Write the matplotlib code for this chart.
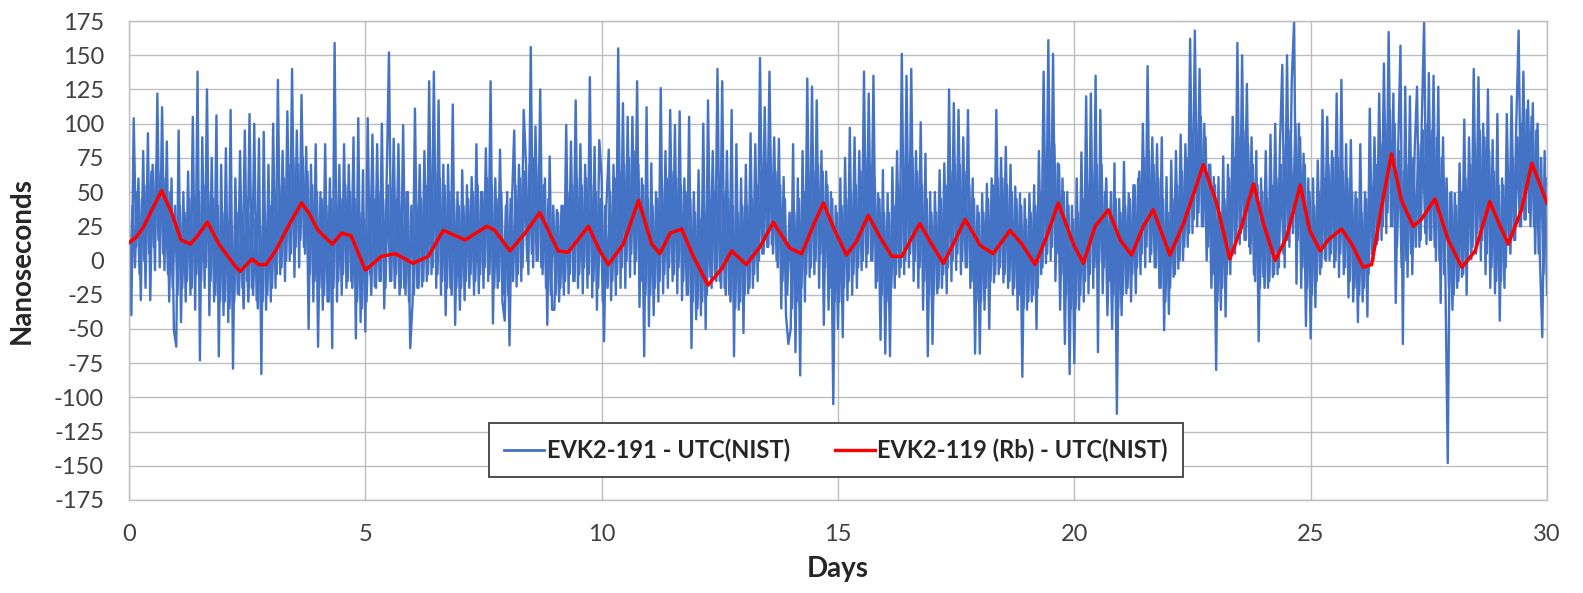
import numpy as np
import matplotlib
matplotlib.use("Agg")
import matplotlib.pyplot as plt

plt.rcParams['font.family'] = ['Lato', 'DejaVu Sans']

# ---------------- data ----------------
blue_label = "EVK2-191 - UTC(NIST)"
red_label = "EVK2-119 (Rb) - UTC(NIST)"

blue_step_days = 0.05
# EVK2-191 - UTC(NIST), ns: excursions (spikes), one row per day (20 samples/day)
blue_by_day = [
    [15, -40, 104, 10, 60, -29, 80, -20, 93, -29, 70, -7, 122, -5, 112, -7, 87, -30, 60, -51],
    [-63, 95, -45, 50, -30, 65, -25, 105, -36, 138, -73, 90, -20, 125, -40, 75, -30, 106, -70, 70],
    [-40, 82, -45, 110, -79, 60, -24, 80, -20, 95, -15, 107, -20, 100, -29, 89, -83, 94, -36, 70],
    [-30, 100, -20, 132, -10, 80, -15, 109, 0, 140, -12, 95, -5, 121, 10, 83, -50, 70, -30, 85],
    [-63, 50, -36, 85, -30, 60, -64, 159, -30, 70, -25, 85, -20, 70, -15, 90, -57, 104, -45, 66],
    [-52, 104, -10, 92, -19, 85, -15, 100, -35, 55, 152, -15, 89, -10, 85, -20, 99, -25, 50, -64],
    [-30, 111, -20, 70, -19, 80, -15, 131, -10, 138, -20, 117, -25, 70, -40, 70, -20, 114, -47, 50],
    [-36, 66, -29, 55, -20, 61, -25, 85, -24, 50, -20, 82, -15, 131, -46, 60, -20, 81, -30, -44],
    [50, -62, 40, 95, -19, 70, -15, 110, 70, -10, 156, -5, 98, 0, 125, -10, 60, -47, 76, -36],
    [-36, 37, -30, 40, -25, 99, -24, 87, -15, 117, -20, 85, -24, 70, -20, 134, -27, 83, -36, 88],
    [60, -59, 40, 81, -29, 70, -25, 155, -20, 115, -20, 105, -12, 105, -10, 131, -34, 60, -70, 112],
    [-48, 71, -40, 50, -30, 126, -24, 80, -20, 110, -15, 99, -24, 109, -29, 60, -25, 105, -64, 50],
    [-43, 66, -40, 100, -50, 117, -12, 80, -10, 140, -15, 131, -20, 80, -25, 110, -70, 85, -36, 60],
    [-53, 70, -24, 93, -20, 85, -15, 148, 5, 112, 10, 138, 12, 90, 0, 89, -35, 61, -40, -61],
    [-50, 85, -67, 60, -84, 80, -30, 133, -12, 127, -10, 117, -20, 80, -47, 65, -36, 50, -105, 40],
    [-50, 60, -56, 75, -29, 97, -25, 90, -20, 80, -7, 138, -5, 122, 0, 135, -20, 49, -58, 66],
    [-68, 49, -70, 68, -20, 80, -12, 151, -10, 135, -5, 140, -15, 80, -20, 101, -36, 78, -70, 50],
    [-61, 50, -24, 66, -20, 71, -24, 125, -15, 115, -7, 110, -10, 90, -5, 110, -20, 60, -68, 40],
    [-68, 49, -36, 56, -50, 60, -16, 110, -10, 75, -16, 83, -20, 70, -25, 54, -36, 49, -85, 45],
    [-36, 49, -30, 55, -50, 80, -10, 138, -2, 161, 0, 151, -15, 71, -36, 60, -61, 50, -83, 40],
    [-75, 60, -36, 79, -30, 120, -24, 122, -20, 135, -67, 110, -24, 50, -40, 37, -50, 71, -112, 45],
    [-40, 72, -24, 49, -30, 55, -24, 60, -10, 100, -5, 142, -1, 90, -5, 85, -20, 90, -51, 61],
    [-39, 73, -12, 80, -6, 92, 0, 85, 10, 162, 20, 168, 25, 140, 25, 100, 0, 70, -20, 61],
    [-80, 61, -36, 76, -41, 70, -10, 105, 5, 159, 12, 150, 15, 129, 10, 90, -10, 80, -59, 60],
    [-12, 80, -20, 92, -12, 100, -10, 85, 143, -5, 150, 10, 132, 175, -17, 100, -20, 78, -48, 60],
    [-57, 60, -34, 73, -10, 110, 1, 105, 0, 80, -5, 122, -12, 132, -10, 85, -27, 88, -30, 50],
    [-45, 85, -30, 50, -41, 111, 5, 90, 12, 122, 15, 144, 20, 167, 25, 122, -31, 80, 157, -61],
    [127, -12, 120, -10, 80, 127, 10, 100, 175, 12, 137, 15, 135, 0, 127, -31, 90, -12, -148, 49],
    [-36, 49, -20, 71, -12, 103, -25, 90, 1, 140, 5, 134, 0, 100, -10, 125, -20, 88, -24, 107],
    [-44, 60, -20, 107, 12, 120, 15, 100, 168, 25, 138, 30, 117, 25, 115, 5, 100, 1, -56, 80],
]
blue_last = [-25]

# EVK2-191 - UTC(NIST), ns: dense core samples, offset half a step (20 samples/day)
blue_core_by_day = [
    [-15, 40, -5, 50, -10, 45, 0, 55, 5, 65, 10, 70, 15, 65, 5, 60, -10, 50, -20, 40],
    [-25, 40, -20, 35, -15, 45, -20, 40, -10, 50, -15, 55, -5, 50, -15, 45, -25, 40, -30, 35],
    [-30, 30, -35, 25, -30, 35, -25, 30, -35, 40, -30, 35, -25, 30, -35, 25, -30, 35, -25, 40],
    [-20, 45, -10, 55, -5, 60, 0, 70, 5, 75, 10, 70, 15, 75, 5, 65, -10, 55, -15, 50],
    [-20, 45, -25, 40, -30, 45, -20, 50, -15, 45, -10, 55, -15, 50, -20, 45, -30, 35, -35, 30],
    [-30, 35, -25, 45, -20, 50, -15, 45, -20, 55, -15, 50, -20, 45, -25, 40, -20, 50, -30, 40],
    [-25, 40, -20, 45, -15, 55, -10, 60, -5, 65, -10, 60, -15, 55, -20, 50, -25, 45, -20, 40],
    [-20, 40, -15, 45, -10, 50, -15, 55, -10, 50, -5, 60, -10, 55, -20, 45, -15, 50, -25, 40],
    [-25, 45, -15, 55, -10, 60, -5, 65, 0, 70, 5, 75, 0, 70, -5, 55, -20, 45, -25, 40],
    [-25, 35, -20, 40, -15, 50, -10, 55, -15, 60, -10, 55, -5, 60, -10, 55, -15, 50, -20, 45],
    [-30, 40, -20, 50, -15, 60, -10, 65, -5, 70, 0, 75, 5, 80, 0, 70, -15, 55, -25, 45],
    [-25, 40, -20, 45, -15, 55, -10, 60, -5, 65, -10, 60, -5, 55, -15, 50, -25, 45, -30, 35],
    [-35, 30, -30, 35, -25, 45, -20, 50, -15, 55, -20, 50, -25, 45, -30, 40, -35, 35, -30, 40],
    [-25, 40, -20, 45, -10, 55, 0, 65, 5, 70, 10, 75, 5, 65, -5, 55, -15, 45, -25, 35],
    [-35, 35, -30, 45, -20, 50, -10, 60, -5, 65, 0, 70, 5, 65, -5, 55, -20, 45, -30, 35],
    [-30, 40, -20, 45, -15, 50, -10, 55, -5, 65, 0, 75, 5, 70, 0, 60, -15, 45, -25, 35],
    [-30, 35, -20, 40, -10, 55, -5, 65, 0, 70, 5, 75, 0, 65, -5, 55, -15, 45, -25, 35],
    [-25, 35, -20, 45, -10, 55, -5, 65, 0, 70, 5, 70, 0, 65, -5, 55, -15, 45, -30, 35],
    [-30, 35, -20, 45, -15, 55, -10, 60, -5, 60, -10, 55, -15, 50, -20, 45, -25, 40, -35, 30],
    [-30, 35, -25, 40, -20, 50, -5, 65, 5, 80, 10, 85, 5, 70, -10, 50, -25, 40, -35, 30],
    [-35, 35, -25, 45, -15, 55, -10, 65, -5, 70, 0, 70, -5, 60, -15, 50, -25, 45, -35, 35],
    [-25, 40, -20, 45, -10, 55, -5, 65, 5, 75, 10, 80, 5, 70, -5, 60, -20, 45, -30, 35],
    [-20, 45, -10, 55, 0, 65, 10, 75, 20, 90, 30, 100, 35, 105, 25, 90, 10, 70, -10, 55],
    [-30, 35, -20, 45, -10, 60, 5, 75, 15, 90, 20, 95, 15, 85, 5, 70, -15, 55, -20, 50],
    [-20, 45, -15, 55, -10, 60, -5, 70, 5, 85, 15, 95, 20, 100, 15, 90, -5, 70, -20, 50],
    [-25, 40, -15, 50, -5, 60, 0, 70, 5, 75, 0, 75, 5, 65, -5, 60, -15, 50, -20, 45],
    [-25, 35, -20, 45, -10, 55, 0, 70, 15, 85, 25, 100, 35, 110, 25, 100, 10, 80, -5, 65],
    [0, 70, 5, 75, 10, 85, 15, 95, 20, 100, 15, 95, 10, 90, 0, 75, -10, 60, -20, 50],
    [-25, 40, -15, 50, -10, 60, 0, 70, 10, 85, 20, 95, 15, 90, 5, 80, -5, 65, -15, 55],
    [-15, 55, -5, 65, 5, 75, 15, 90, 25, 100, 30, 110, 35, 105, 25, 95, 5, 75, -10, 60],
]

# EVK2-119 (Rb) - UTC(NIST)
red_days = [0, 0.15, 0.3, 0.5, 0.69, 0.9, 1.1, 1.3, 1.45, 1.66, 1.9, 2.2, 2.35, 2.6, 2.75, 2.9,
            3.1, 3.4, 3.65, 3.8, 4.0, 4.3, 4.5, 4.7, 5.0, 5.34, 5.63, 6.01, 6.33, 6.65, 7.11,
            7.57, 7.74, 8.06, 8.38, 8.69, 9.08, 9.29, 9.72, 9.96, 10.14, 10.46, 10.78, 11.06,
            11.23, 11.45, 11.69, 11.94, 12.25, 12.54, 12.75, 13.06, 13.35, 13.63, 13.98, 14.23,
            14.47, 14.69, 14.93, 15.18, 15.39, 15.64, 15.89, 16.14, 16.35, 16.73, 16.98, 17.23,
            17.41, 17.69, 18.01, 18.28, 18.64, 18.89, 19.17, 19.41, 19.66, 19.98, 20.19, 20.44,
            20.72, 20.97, 21.21, 21.46, 21.67, 22.02, 22.31, 22.73, 23.01, 23.29, 23.54, 23.79,
            24.0, 24.25, 24.49, 24.78, 24.98, 25.2, 25.37, 25.65, 25.87, 26.11, 26.29, 26.5,
            26.71, 26.92, 27.17, 27.34, 27.63, 27.91, 28.2, 28.48, 28.79, 29.01, 29.18, 29.46,
            29.68, 30]
red_vals = [13, 17, 24, 38, 51, 35, 15, 12, 18, 28, 12, -2, -8, 1, -3, -3,
            7, 27, 42, 35, 22, 12, 20, 18, -7, 3, 5, -2, 3, 22, 15,
            25, 22, 7, 20, 35, 7, 6, 25, 7, -3, 12, 44, 12,
            5, 20, 23, 3, -18, -6, 7, -3, 10, 28, 9, 5,
            25, 42, 22, 4, 14, 33, 17, 3, 3, 27, 12, -2,
            10, 30, 11, 5, 22, 12, -3, 17, 42, 12, -2, 25,
            37, 15, 4, 25, 37, 4, 27, 70, 42, 1, 25, 56,
            27, 0, 17, 55, 22, 7, 15, 23, 12, -5, -3, 39,
            78, 44, 25, 30, 45, 15, -5, 7, 43, 25, 12, 37,
            71, 42]

x_ticks = [0, 5, 10, 15, 20, 25, 30]
y_ticks = list(range(-175, 176, 25))
x_label = "Days"
y_label = "Nanoseconds"

# ---------------- plot ----------------
blue_vals = np.array([v for row in blue_by_day for v in row] + blue_last, dtype=float)
blue_days = np.arange(len(blue_vals)) * blue_step_days
core_vals = np.array([v for row in blue_core_by_day for v in row], dtype=float)
core_days = (np.arange(len(core_vals)) + 0.5) * blue_step_days

fig = plt.figure(figsize=(15.83, 5.93), dpi=100)
ax = fig.add_axes([129 / 1583, 93 / 593, 1418 / 1583, 479 / 593])

blue_color = '#4472C4'
ax.plot(core_days, core_vals, color=blue_color, lw=1.8, zorder=2)
ax.plot(blue_days, blue_vals, color=blue_color, lw=1.7, label=blue_label, zorder=2)
ax.plot(red_days, red_vals, color='#FF0000', lw=2.5, label=red_label, zorder=3,
        solid_joinstyle='round')

ax.set_xlim(0, 30)
ax.set_ylim(-175, 175)
ax.set_xticks(x_ticks)
ax.set_yticks(y_ticks)
ax.set_xticklabels([str(t) for t in x_ticks])
ax.set_yticklabels([str(t) for t in y_ticks])
ax.grid(True, color='#BDBDBD', lw=1.0, zorder=0)
ax.set_axisbelow(True)
for s in ax.spines.values():
    s.set_color('#BDBDBD')
    s.set_linewidth(1.0)
ax.tick_params(axis='both', length=0, labelsize=17, colors='#404040')
ax.tick_params(axis='x', pad=17)
ax.tick_params(axis='y', pad=18)

ax.set_xlabel(x_label, fontsize=20, fontweight='bold', color='#262626', labelpad=8)
ax.set_ylabel(y_label, fontsize=20, fontweight='bold', color='#262626', labelpad=14)

leg = ax.legend(loc='center', bbox_to_anchor=(0.4986, 0.104), ncol=2, frameon=True,
                fancybox=False, prop={'family': 'Lato', 'weight': 'bold', 'size': 17},
                handlelength=1.7, handletextpad=0.1, columnspacing=1.9, borderpad=0.65)
leg.get_frame().set_edgecolor('#404040')
leg.get_frame().set_linewidth(1.3)
leg.get_frame().set_alpha(1.0)
for t in leg.get_texts():
    t.set_color('#262626')
leg.get_lines()[0].set_linewidth(2.0)
leg.get_lines()[1].set_linewidth(2.4)

fig.savefig("out.png", dpi=100)
